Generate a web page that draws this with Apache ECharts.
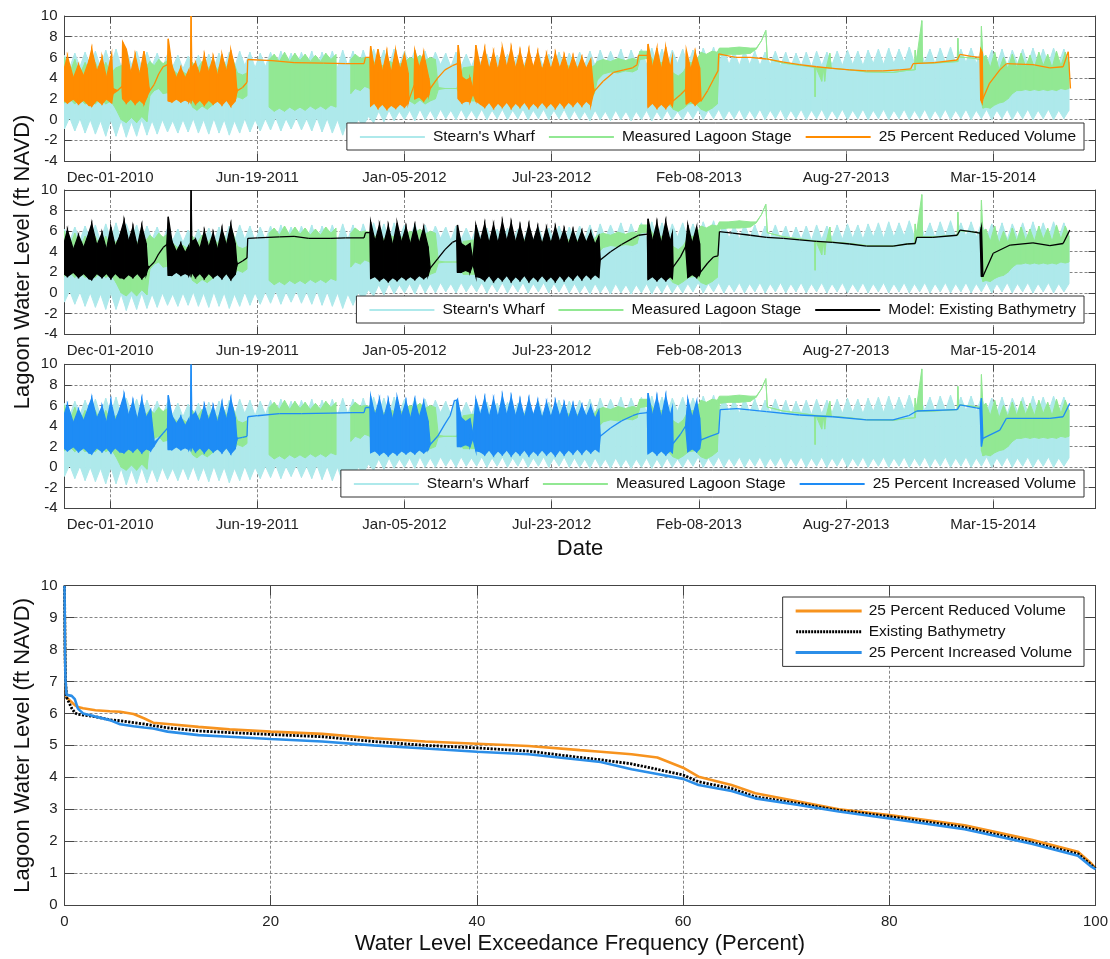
<!DOCTYPE html>
<html>
<head>
<meta charset="utf-8">
<script src="https://cdn.jsdelivr.net/npm/echarts@6/dist/echarts.min.js"></script>
<style>
  html, body { margin: 0; padding: 0; background: #fff; }
  #chart { width: 1110px; height: 959px; }
</style>
</head>
<body>
<div id="chart"></div>
<script>
// ---------------------------------------------------------------------------
// Time axis: days counted from Dec-01-2010
// ---------------------------------------------------------------------------
const dateTickDays = [0, 200, 400, 600, 800, 1000, 1200];
const dateTickLabels = ['Dec-01-2010', 'Jun-19-2011', 'Jan-05-2012', 'Jul-23-2012',
                        'Feb-08-2013', 'Aug-27-2013', 'Mar-15-2014'];

// Stearn's Wharf tide envelope, one sample each week starting day -62
const wharfStartDay = -62;
const wharfStepDays = 7;
const wharfHigh = [
  6.2,5.0,6.4,5.1,6.5,5.2,6.6,5.0,6.7,5.2,
  6.8,5.1,6.7,5.3,6.6,5.0,6.5,5.2,6.4,5.0,
  6.3,5.1,6.2,4.9,6.1,5.0,6.2,4.9,6.3,5.0,
  6.4,5.1,6.5,5.0,6.6,5.2,6.5,5.0,6.4,5.1,
  6.5,5.0,6.6,5.2,6.4,5.0,6.5,5.1,6.6,5.0,
  6.5,5.2,6.6,5.0,6.7,5.2,6.6,5.1,6.7,5.2,
  6.8,5.3,6.7,5.2,6.8,5.3,6.6,5.2,6.7,5.3,
  6.6,5.2,6.5,5.3,6.4,5.1,6.5,5.2,6.3,5.1,
  6.4,5.2,6.3,5.1,6.2,5.0,6.3,5.1,6.2,5.0,
  6.3,5.1,6.4,5.0,6.3,5.2,6.5,5.1,6.4,5.2,
  6.5,5.3,6.6,5.2,6.7,5.3,6.6,5.4,6.8,5.3,
  6.7,5.4,6.8,5.3,6.9,5.4,6.8,5.3,6.7,5.4,
  6.8,5.3,6.7,5.4,6.9,5.5,7.0,5.4,6.8,5.3,
  6.6,5.2,6.7,5.3,6.6,5.2,6.5,5.3,6.6,5.2,
  6.5,5.1,6.4,5.2,6.5,5.1,6.6,5.2,6.5,5.3,
  6.6,5.2,6.7,5.3,6.6,5.2,6.7,5.4,6.8,5.3,
  6.9,5.4,6.8,5.5,7.0,5.4,6.9,5.5,6.8,5.4,
  6.9,5.5,7.0,5.4,6.8,5.5,6.9,5.4,6.8,5.3,
  6.7,5.3,6.8,5.2,6.7,5.4,6.8,5.3,6.9,5.4,
  6.8,5.3,6.9,5.4,6.8,5.5
];
const wharfLow = [
  -0.9,0.2,-1.1,0.1,-1.3,0.0,-1.4,-0.1,-1.6,0.0,
  -1.6,-0.1,-1.7,-0.2,-1.6,0.0,-1.5,-0.1,-1.4,0.0,
  -1.2,-0.1,-1.3,0.0,-1.2,0.1,-1.3,0.0,-1.4,0.1,
  -1.3,0.0,-1.5,-0.1,-1.3,0.1,-1.2,0.0,-1.1,0.1,
  -1.0,0.2,-1.1,0.1,-0.9,0.2,-1.0,0.1,-1.1,0.2,
  -1.2,0.1,-1.3,0.0,-1.5,-0.1,-1.2,0.0,-0.6,0.3,
  -0.3,0.8,-0.2,0.9,-0.1,0.8,0.0,0.9,-0.1,1.0,
  0.0,0.9,0.0,1.0,0.1,0.9,0.0,1.0,0.1,0.9,
  0.1,1.0,0.0,0.9,0.1,1.0,0.0,0.9,0.1,1.0,
  0.0,0.9,0.1,1.0,0.0,0.9,0.1,1.0,0.0,0.9,
  0.0,0.8,-0.1,0.9,0.0,0.8,-0.1,0.9,0.0,0.8,
  -0.1,0.8,0.0,0.9,-0.1,0.8,0.0,0.9,0.0,0.8,
  0.0,0.9,0.1,1.0,0.0,0.9,0.1,1.0,0.0,0.9,
  0.1,1.0,0.0,0.9,0.1,1.0,0.0,0.9,0.1,1.0,
  0.0,0.9,0.1,1.0,0.0,0.9,0.1,1.0,0.0,0.9,
  0.1,1.0,0.0,0.9,0.1,1.0,0.0,0.9,0.1,1.0,
  0.0,0.9,0.1,1.0,0.0,0.9,0.1,1.0,0.0,0.9,
  0.1,1.0,0.0,0.9,0.1,1.0,0.0,0.9,0.1,1.0,
  0.0,0.9,0.1,1.0,0.0,0.9,0.1,1.0,0.0,0.9,
  0.1,1.0,0.0,0.9,0.1,0.9
];

// Measured lagoon stage: [day, low, high]; null rows are gaps in the record
const lagoonStage = [
  [-62,1.6,6.0],[-55,2.0,4.5],[-48,1.5,5.8],[-41,2.0,4.4],[-34,1.5,5.5],[-27,1.8,4.6],
  [-20,1.5,5.5],[-13,2.0,4.4],[-6,1.5,5.5],[1,1.8,4.5],[8,1.0,5.0],[15,0.0,5.2],
  [22,-0.3,4.8],[29,0.2,4.4],[36,-0.3,5.0],[43,0.3,4.5],[50,-0.2,5.2],
  [54,2.3,5.6],[60,2.8,5.2],[66,3.0,5.8],[72,2.5,5.4],[78,2.6,5.7],
  [85,2.0,4.8],[92,2.2,4.4],[99,2.0,4.6],[106,2.2,4.3],
  [112,1.2,5.5],[118,0.9,4.8],[125,1.3,5.6],[132,1.0,4.8],[139,1.4,5.5],
  [146,1.8,4.8],[153,1.6,5.8],[160,1.9,4.8],[167,1.6,5.8],
  [173,2.2,4.5],[180,2.0,4.3],[186,2.3,4.5],
  [188,null,null],
  [216,1.2,5.8],[223,0.8,6.3],[230,1.1,5.6],[237,0.8,6.5],[244,1.2,5.6],[251,0.9,6.4],
  [258,1.2,5.7],[265,0.9,6.3],[272,1.3,5.6],[279,1.0,6.2],[286,1.3,5.6],[293,1.0,6.4],
  [300,1.4,5.8],[307,1.2,6.3],
  [311,null,null],
  [327,2.5,5.8],[333,3.0,6.3],[340,2.8,5.9],[346,3.2,6.0],[353,3.0,5.9],
  [360,1.6,5.5],[370,1.8,5.2],[380,1.6,5.6],[390,1.8,5.3],[400,1.6,5.5],
  [407,1.8,6.0],[414,1.5,5.8],[421,1.9,6.2],[428,1.5,5.7],[435,1.8,6.0],[442,2.0,5.8],
  [446,2.9,3.1],[455,3.0,3.0],[465,3.0,3.0],[471,3.0,3.0],
  [480,1.8,5.0],[500,1.8,5.2],[530,1.8,5.0],[560,1.8,5.2],[590,1.8,5.0],[620,1.8,5.2],
  [650,1.8,5.0],[658,2.5,5.2],
  [662,3.8,5.6],[670,4.4,5.8],[680,4.6,5.6],[690,4.5,5.9],[700,4.7,5.7],[710,4.6,5.9],
  [716,4.8,5.8],[720,5.8,6.6],[730,5.9,6.6],
  [740,1.8,5.5],[755,1.8,5.5],
  [765,1.0,4.5],[772,0.8,4.2],[779,1.1,4.6],
  [786,1.5,5.5],[795,1.6,5.5],
  [803,1.0,6.5],[810,0.8,6.3],[818,1.1,6.6],[825,1.5,6.5],
  [828,6.2,6.9],[840,6.3,6.9],[855,6.3,7.0],[870,6.4,6.9],[878,6.8,6.9],[885,7.6,7.6],
  [891,8.6,8.6],[893,5.85,5.85],
  [915,5.45,5.45],[937,5.25,5.25],[957,5.05,5.05],[958,2.2,5.05],[959,5.05,5.05],
  [967,3.7,5.0],[969,5.0,5.0],[971,3.7,5.0],[973,5.0,5.0],[978,4.95,6.4],[980,4.95,4.95],
  [1005,4.8,4.8],[1028,4.6,4.6],[1064,4.55,4.55],[1083,4.75,4.75],[1093,4.8,4.8],
  [1094,4.8,6.7],[1095,5.4,5.4],[1103,5.45,9.55],[1104,5.45,5.45],[1118,5.45,5.45],
  [1151,5.6,5.6],[1152,5.6,7.85],[1153,6.05,6.05],[1170,5.95,5.95],[1183,5.8,5.8],
  [1184,1.6,9.0],[1186,1.1,6.0],
  [1190,1.2,6.2],[1196,1.1,5.0],[1202,1.4,6.5],[1208,1.6,4.8],[1214,1.7,6.0],[1220,2.0,4.9],
  [1226,2.5,6.3],[1232,2.8,5.0],[1238,2.8,6.4],[1244,2.9,5.1],[1250,2.8,6.2],[1256,2.9,5.0],
  [1262,2.8,6.5],[1268,2.9,5.2],[1274,2.8,6.3],[1280,2.9,5.0],[1286,2.8,6.6],[1292,3.0,5.2],
  [1298,2.9,6.5],[1303,3.0,5.5]
];

// Modelled lagoon level, 25 percent reduced volume: [day, low, high]
const reducedVolume = [
  [-62,1.8,5.0],[-58,1.6,6.1],[-50,2.0,4.0],[-43,1.5,5.3],[-36,1.9,4.2],[-29,1.4,5.6],
  [-25,1.3,6.8],[-18,1.9,4.6],[-11,1.5,6.0],[-5,2.0,4.0],[2,1.6,6.3],[4,2.5,3.0],
  [10,2.8,2.8],[16,3.2,3.2],
  [17,2.0,7.5],[22,1.6,6.8],[28,2.0,4.5],[34,1.5,6.2],[40,1.9,4.3],[46,1.5,6.6],[50,2.2,5.0],[53,2.7,3.0],
  [54,2.8,2.8],[60,3.4,3.4],[66,4.4,4.4],[72,5.1,5.1],[78,5.3,5.3],
  [79,1.8,7.8],[84,1.7,5.2],[90,2.0,4.0],[96,1.7,5.0],[102,1.9,4.0],[107,1.7,4.8],[109,2.0,3.5],
  [110,1.8,10.0],[111,2.0,5.0],
  [116,1.5,5.5],[122,1.9,4.3],[128,1.4,6.2],[134,1.9,4.5],[140,1.5,6.0],[146,1.8,4.2],
  [152,1.4,6.3],[158,1.9,4.6],[164,1.3,6.7],[170,1.8,4.8],[172,2.6,3.0],
  [173,2.8,2.8],[180,3.1,3.1],[186,3.6,3.6],
  [187,5.8,5.8],[220,5.7,5.7],[250,5.5,5.5],[290,5.45,5.45],[320,5.4,5.4],[345,5.4,5.4],
  [347,6.0,6.0],[353,6.0,6.0],
  [354,1.3,7.1],[359,1.6,5.0],[364,1.1,6.8],[370,1.5,4.6],[376,1.0,6.5],[382,1.4,4.5],
  [388,1.1,6.7],[394,1.5,4.8],[400,1.2,6.3],[405,1.6,4.5],
  [406,1.9,1.9],[413,3.3,3.3],
  [414,2.0,6.7],[420,2.2,5.0],[426,1.8,6.4],[433,2.4,4.0],
  [435,3.0,3.0],[445,4.0,4.0],[455,4.8,4.8],[465,5.2,5.2],[472,5.4,5.4],
  [473,2.0,7.2],[478,1.6,4.1],[484,1.8,3.8],[489,1.7,4.0],[493,2.5,3.0],[497,1.8,7.2],
  [503,1.5,5.0],[509,1.2,6.8],[515,1.7,4.8],[521,1.1,6.5],[527,1.6,4.7],[533,1.2,7.0],
  [539,1.7,5.0],[545,1.1,6.9],[551,1.6,4.9],[557,1.2,6.6],[563,1.7,4.8],[569,1.1,6.7],
  [575,1.6,5.0],[581,1.2,6.5],[587,1.7,4.7],[593,1.2,6.3],[599,1.6,4.8],[605,1.1,6.4],
  [611,1.7,4.9],[617,1.2,6.2],[623,1.7,4.7],[629,1.3,6.1],[635,1.8,4.8],[641,1.3,6.0],
  [647,1.8,4.9],[653,1.4,5.8],[657,2.6,3.0],
  [658,2.75,2.75],[670,3.7,3.7],[684,4.55,4.55],[698,4.8,4.8],[710,5.0,5.0],[716,5.3,5.3],
  [718,6.2,6.2],[730,6.2,6.2],
  [731,1.2,7.3],[737,1.6,5.0],[743,1.1,6.9],[749,1.5,4.8],[755,1.1,7.0],[761,1.6,5.0],[764,1.3,6.0],
  [765,1.8,1.8],[775,2.4,2.4],[782,2.9,2.9],
  [783,1.5,6.7],[789,1.8,4.8],[795,1.4,6.5],[801,1.8,5.0],
  [803,1.8,1.8],[812,2.8,2.8],[820,3.9,3.9],[826,4.7,4.7],
  [827,6.35,6.35],[850,6.0,6.0],[870,6.0,6.0],[892,5.85,5.85],[915,5.55,5.55],[937,5.3,5.3],
  [960,5.1,5.1],[982,4.95,4.95],[1005,4.8,4.8],[1028,4.7,4.7],[1050,4.7,4.7],[1073,4.8,4.8],
  [1088,4.9,4.9],[1091,5.4,5.4],[1120,5.5,5.5],[1151,5.75,5.75],[1155,6.3,6.3],[1170,6.1,6.1],
  [1182,6.0,6.0],
  [1183,1.9,6.8],[1185,1.6,6.5],[1186,2.0,2.0],[1195,3.5,3.5],[1209,4.8,4.8],[1218,5.4,5.4],
  [1235,5.35,5.35],[1254,5.3,5.3],[1277,5.0,5.0],[1295,5.1,5.1],[1302,6.55,6.55],[1305,3.0,3.0]
];

// Modelled lagoon level, existing bathymetry: [day, low, high]
const existingBathymetry = [
  [-62,1.8,5.0],[-58,1.6,6.1],[-50,2.0,4.2],[-43,1.5,5.6],[-36,1.9,4.4],[-29,1.4,5.8],
  [-25,1.3,6.7],[-18,1.9,4.6],[-11,1.5,5.8],[-5,1.9,4.2],[1,1.4,6.4],[7,1.9,4.5],[13,1.5,5.5],
  [19,1.4,7.0],[25,1.8,5.0],[31,1.5,6.4],[37,1.9,4.5],[43,1.4,6.5],[49,1.8,4.8],[51,2.3,2.6],
  [53,2.5,2.5],[60,3.0,3.0],[66,3.8,3.8],[72,4.4,4.4],[77,4.7,4.7],
  [79,1.7,7.4],[84,1.7,5.0],[90,2.0,4.0],[96,1.7,4.8],[102,1.9,3.9],[107,1.7,4.6],[109,2.0,3.4],
  [110,1.8,10.0],[111,2.0,5.0],
  [116,1.5,5.2],[122,1.9,4.3],[128,1.4,6.0],[134,1.9,4.4],[140,1.5,5.8],[146,1.8,4.2],
  [152,1.4,6.2],[158,1.9,4.6],[164,1.3,6.6],[170,1.8,4.8],[172,2.6,3.0],
  [173,2.8,2.8],[180,3.1,3.1],[186,3.4,3.4],
  [187,5.3,5.3],[200,5.35,5.35],[230,5.45,5.45],[250,5.5,5.5],[270,5.3,5.3],[300,5.3,5.3],
  [320,5.35,5.35],[345,5.35,5.35],[347,5.85,5.85],[353,5.85,5.85],
  [354,1.4,6.9],[360,1.6,5.0],[366,1.2,6.6],[372,1.5,4.8],[378,1.1,6.5],[384,1.5,4.6],
  [390,1.2,6.8],[396,1.6,4.9],[402,1.3,6.4],[408,1.6,4.7],[414,1.3,6.5],[420,1.7,4.8],
  [426,1.4,6.3],[432,1.7,4.5],[435,2.4,2.4],
  [445,3.3,3.3],[455,4.2,4.2],[465,4.9,4.9],[471,5.1,5.1],
  [472,2.0,6.6],[477,2.0,4.8],[483,2.2,4.5],[489,2.0,4.8],[493,2.8,3.2],[497,1.6,6.6],
  [503,1.5,5.0],[509,1.2,6.7],[515,1.7,4.8],[521,1.1,6.6],[527,1.6,4.8],[533,1.2,6.9],
  [539,1.7,5.0],[545,1.1,6.8],[551,1.6,4.9],[557,1.2,6.5],[563,1.7,4.8],[569,1.1,6.6],
  [575,1.6,5.0],[581,1.2,6.4],[587,1.7,4.7],[593,1.2,6.3],[599,1.6,4.8],[605,1.1,6.4],
  [611,1.7,4.9],[617,1.2,6.2],[623,1.7,4.7],[629,1.3,6.1],[635,1.8,4.8],[641,1.3,6.0],
  [647,1.8,4.9],[653,1.4,5.9],[659,1.8,4.7],[664,1.5,5.5],[666,3.2,3.2],
  [680,4.0,4.0],[695,4.7,4.7],[710,5.3,5.3],[718,5.6,5.6],[730,5.7,5.7],
  [731,1.3,7.2],[737,1.6,5.0],[743,1.2,6.8],[749,1.6,4.8],[755,1.2,6.9],[761,1.6,5.0],[764,1.4,5.8],
  [765,2.5,2.5],[775,3.5,3.5],[782,4.5,4.5],
  [785,1.5,6.6],[791,1.8,4.8],[797,1.5,6.4],[801,1.8,4.8],
  [802,2.0,2.0],[812,2.9,2.9],[820,3.5,3.5],[826,3.6,3.6],
  [828,5.95,5.95],[846,5.8,5.8],[870,5.6,5.6],[892,5.4,5.4],[915,5.3,5.3],[937,5.15,5.15],
  [960,5.0,5.0],[982,4.9,4.9],[1005,4.75,4.75],[1028,4.55,4.55],[1064,4.55,4.55],
  [1083,4.75,4.75],[1094,4.8,4.8],[1096,5.4,5.4],[1118,5.4,5.4],[1151,5.6,5.6],
  [1155,6.1,6.1],[1170,5.95,5.95],[1182,5.8,5.8],
  [1184,1.6,6.4],[1186,1.6,1.6],[1200,3.85,3.85],[1223,4.65,4.65],[1254,4.85,4.85],
  [1277,4.6,4.6],[1295,4.8,4.8],[1304,6.1,6.1]
];

// Modelled lagoon level, 25 percent increased volume: [day, low, high]
const increasedVolume = [
  [-62,1.8,5.2],[-58,1.6,6.1],[-50,2.0,4.3],[-43,1.5,5.6],[-36,1.9,4.5],[-29,1.4,5.9],
  [-25,1.3,6.7],[-18,1.9,4.7],[-11,1.5,5.9],[-5,1.9,4.3],[1,1.4,6.4],[7,1.9,4.5],[13,1.5,5.6],
  [19,1.4,7.0],[25,1.8,5.0],[31,1.5,6.4],[37,1.9,4.6],[43,1.4,6.6],[49,1.8,4.8],[55,1.6,5.6],
  [60,2.1,2.4],
  [66,2.8,2.8],[72,3.3,3.3],[78,3.8,3.8],
  [79,1.7,7.0],[84,1.7,5.0],[90,2.0,4.2],[96,1.7,4.9],[102,1.9,4.0],[107,1.7,4.7],[109,2.0,3.5],
  [110,1.8,10.0],[111,2.0,5.0],
  [116,1.5,5.3],[122,1.9,4.4],[128,1.4,6.0],[134,1.9,4.5],[140,1.5,5.9],[146,1.8,4.3],
  [152,1.4,6.2],[158,1.9,4.6],[164,1.3,6.6],[170,1.8,4.8],[172,2.6,2.9],
  [173,2.8,2.8],[180,2.9,2.9],[186,3.0,3.0],
  [187,4.9,4.9],[200,5.0,5.0],[230,5.2,5.2],[260,5.2,5.2],[300,5.25,5.25],[330,5.3,5.3],
  [345,5.3,5.3],[347,5.8,5.8],[353,5.8,5.8],
  [354,1.4,6.9],[360,1.6,5.0],[366,1.2,6.6],[372,1.5,4.8],[378,1.1,6.5],[384,1.5,4.6],
  [390,1.2,6.8],[396,1.6,4.9],[402,1.3,6.4],[408,1.6,4.7],[414,1.3,6.5],[420,1.7,4.8],
  [426,1.4,6.3],[432,1.7,4.5],[435,2.2,2.2],
  [445,3.0,3.0],[455,4.2,4.2],[462,5.0,5.0],[468,6.5,6.5],[471,6.5,6.5],
  [472,2.0,6.6],[477,2.0,4.8],[483,2.2,4.4],[489,2.0,4.7],[493,2.8,3.2],[497,1.6,6.6],
  [503,1.5,5.0],[509,1.2,6.7],[515,1.7,4.8],[521,1.1,6.6],[527,1.6,4.8],[533,1.2,6.9],
  [539,1.7,5.0],[545,1.1,6.8],[551,1.6,4.9],[557,1.2,6.5],[563,1.7,4.8],[569,1.1,6.6],
  [575,1.6,5.0],[581,1.2,6.4],[587,1.7,4.7],[593,1.2,6.3],[599,1.6,4.8],[605,1.1,6.4],
  [611,1.7,4.9],[617,1.2,6.2],[623,1.7,4.7],[629,1.3,6.1],[635,1.8,4.8],[641,1.3,6.0],
  [647,1.8,4.9],[653,1.4,5.9],[659,1.8,4.7],[664,1.5,5.5],[666,3.0,3.0],
  [680,3.8,3.8],[695,4.5,4.5],[710,5.0,5.0],[718,5.2,5.2],[730,5.3,5.3],
  [731,1.3,7.2],[737,1.6,5.0],[743,1.2,6.8],[749,1.6,4.8],[755,1.2,6.9],[761,1.6,5.0],[764,1.4,5.8],
  [765,2.3,2.3],[775,3.2,3.2],[782,4.0,4.0],
  [785,1.5,6.6],[791,1.8,4.8],[797,1.5,6.4],[801,1.8,4.8],
  [803,2.65,2.65],[815,3.0,3.0],[827,3.3,3.3],
  [829,5.6,5.6],[852,5.7,5.7],[892,5.4,5.4],[937,5.07,5.07],[982,4.9,4.9],[1028,4.6,4.6],
  [1064,4.6,4.6],[1085,5.0,5.0],[1096,5.46,5.46],[1151,5.6,5.6],[1155,6.05,6.05],[1182,5.7,5.7],
  [1184,2.0,6.7],[1186,2.8,2.8],[1209,3.6,3.6],[1218,4.75,4.75],[1254,4.75,4.75],
  [1277,4.75,4.75],[1295,4.9,4.9],[1304,6.2,6.2]
];

// Exceedance curves (percent of time a level is exceeded)
const exceedancePct = [0, 0.05, 0.1, 0.2, 0.7, 1.0, 1.3, 1.8, 3, 4.4, 5.4, 6.7, 7.7, 8.6, 10,
  13, 16, 20, 25, 30, 35, 40, 45, 50, 52, 55, 57.5, 60, 61.5, 64.7, 67, 71.2, 75.1, 80,
  87.3, 93.8, 98.3, 99.6, 100];
const exceedReduced = [10, 8.0, 7.0, 6.5, 6.35, 6.26, 6.2, 6.16, 6.1, 6.07, 6.05, 5.98, 5.85,
  5.71, 5.67, 5.58, 5.5, 5.43, 5.36, 5.22, 5.12, 5.05, 4.98, 4.85, 4.8, 4.72, 4.62, 4.3, 4.02,
  3.76, 3.5, 3.24, 3.0, 2.82, 2.5, 2.04, 1.67, 1.3, 1.15];
const exceedExisting = [10, 8.0, 7.0, 6.5, 6.16, 6.02, 5.97, 5.95, 5.9, 5.8, 5.77, 5.71, 5.67,
  5.62, 5.55, 5.45, 5.4, 5.34, 5.27, 5.12, 5.0, 4.92, 4.82, 4.62, 4.55, 4.42, 4.25, 4.07, 3.86,
  3.65, 3.39, 3.18, 2.96, 2.77, 2.43, 1.96, 1.6, 1.25, 1.15];
const exceedIncreased = [10, 8.0, 7.0, 6.58, 6.55, 6.45, 6.15, 6.0, 5.9, 5.79, 5.66, 5.6, 5.56,
  5.53, 5.43, 5.32, 5.27, 5.2, 5.12, 5.0, 4.9, 4.8, 4.72, 4.55, 4.48, 4.25, 4.1, 3.95, 3.76,
  3.57, 3.34, 3.13, 2.93, 2.71, 2.37, 1.92, 1.54, 1.2, 1.12];
const curveLabels = {
  reduced: '25 Percent Reduced Volume',
  existing: 'Existing Bathymetry',
  increased: '25 Percent Increased Volume'
};

// ---------------------------------------------------------------------------
// Styling
// ---------------------------------------------------------------------------
const FONT = "'Liberation Sans', Arial, Helvetica, sans-serif";
const CYAN = '#aee9eb';
const GREEN = '#92e893';
const ORANGE = '#ff8c00';
const BLUE = '#1e8cf5';
const BLACK = '#000000';
const AXIS_COLOR = '#444';
const GRID_LINE = { color: '#858585', type: [3, 2], width: 1 };
const LABEL_STYLE = { fontSize: 15, fontFamily: FONT, color: '#222' };
const TITLE_STYLE = { fontSize: 22, fontFamily: FONT, color: '#111' };

const wharfRows = wharfHigh.map((hi, i) => [wharfStartDay + i * wharfStepDays, wharfLow[i], hi]);

// Each item spans two consecutive envelope samples; null samples leave a gap
function toSegments(rows) {
  const out = [];
  for (let i = 0; i < rows.length - 1; i++) {
    const a = rows[i], b = rows[i + 1];
    if (a[1] == null || b[1] == null) continue;
    out.push([a[0], a[1], a[2], b[0], b[1], b[2]]);
  }
  return out;
}

function bandSeries(name, rows, color, panel, z, lw) {
  return {
    type: 'custom',
    name,
    xAxisIndex: panel * 2,
    yAxisIndex: panel * 2,
    z,
    silent: true,
    clip: true,
    itemStyle: { color },
    encode: { x: [0, 3], y: [1, 2, 4, 5] },
    data: toSegments(rows),
    renderItem(params, api) {
      const pts = [
        api.coord([api.value(0), api.value(2)]),
        api.coord([api.value(3), api.value(5)]),
        api.coord([api.value(3), api.value(4)]),
        api.coord([api.value(0), api.value(1)])
      ];
      return {
        type: 'polygon',
        shape: { points: pts },
        style: { fill: color, stroke: color, lineWidth: lw }
      };
    }
  };
}

function dateAxis(grid, position) {
  const bottom = position === 'bottom';
  return {
    type: 'value', gridIndex: grid, position, min: -62, max: 1339,
    axisLine: { show: true, onZero: false, lineStyle: { color: AXIS_COLOR, width: 1 } },
    axisTick: { show: true, inside: true, length: 7, customValues: dateTickDays,
                lineStyle: { color: AXIS_COLOR } },
    axisLabel: { show: bottom, customValues: dateTickDays, margin: 9, ...LABEL_STYLE,
                 formatter: v => { const k = dateTickDays.indexOf(v); return k < 0 ? '' : dateTickLabels[k]; } },
    splitLine: { show: bottom, lineStyle: GRID_LINE }
  };
}

function levelAxis(grid, position, min, max, interval, tickLen) {
  const left = position === 'left';
  return {
    type: 'value', gridIndex: grid, position, min, max, interval,
    axisLine: { show: true, onZero: false, lineStyle: { color: AXIS_COLOR, width: 1 } },
    axisTick: { show: true, inside: true, length: tickLen, lineStyle: { color: AXIS_COLOR } },
    axisLabel: { show: left, margin: 7, ...LABEL_STYLE },
    splitLine: { show: left, lineStyle: GRID_LINE }
  };
}

function topLegend(top, names, colors) {
  return {
    right: 26, top, orient: 'horizontal', selectedMode: false,
    backgroundColor: '#fff', borderColor: '#333', borderWidth: 1, borderRadius: 0,
    padding: [6, 8, 5, 13], itemGap: 14, itemWidth: 65, itemHeight: 2,
    textStyle: { fontSize: 15.5, fontFamily: FONT, color: '#111', padding: [0, 0, 0, 3] },
    data: names.map((n, i) => ({ name: n, icon: 'rect', itemStyle: { color: colors[i], borderWidth: 0 } }))
  };
}

// dotted sample for the dashed curve in the lower legend
let dots = '';
for (let k = 0; k < 22; k++) dots += 'M' + (k * 3) + ',0h2v3h-2z';
const dottedIcon = 'path://' + dots;

const yTitle = {
  name: 'Lagoon Water Level (ft NAVD)', nameLocation: 'middle', nameGap: 31,
  nameMoveOverlap: false, nameTextStyle: TITLE_STYLE
};

const xAxes = [], yAxes = [];
for (let p = 0; p < 3; p++) {
  xAxes.push(dateAxis(p, 'bottom'), dateAxis(p, 'top'));
  yAxes.push(levelAxis(p, 'left', -4, 10, 2, 7), levelAxis(p, 'right', -4, 10, 2, 7));
}
Object.assign(xAxes[4], { name: 'Date', nameLocation: 'middle', nameGap: 30, nameTextStyle: TITLE_STYLE });
Object.assign(yAxes[2], yTitle);

const pctAxis = pos => ({
  type: 'value', gridIndex: 3, position: pos, min: 0, max: 100, interval: 20,
  axisLine: { show: true, onZero: false, lineStyle: { color: AXIS_COLOR, width: 1 } },
  axisTick: { show: true, inside: true, length: 10, lineStyle: { color: AXIS_COLOR } },
  axisLabel: { show: pos === 'bottom', margin: 9, ...LABEL_STYLE },
  splitLine: { show: pos === 'bottom', lineStyle: GRID_LINE }
});
const xPctBottom = pctAxis('bottom');
Object.assign(xPctBottom, { name: 'Water Level Exceedance Frequency (Percent)', nameLocation: 'middle',
                            nameGap: 28, nameTextStyle: TITLE_STYLE });
xAxes.push(xPctBottom, pctAxis('top'));
const yLevelLeft = levelAxis(3, 'left', 0, 10, 1, 10);
Object.assign(yLevelLeft, yTitle);
yAxes.push(yLevelLeft, levelAxis(3, 'right', 0, 10, 1, 10));

const curve = (name, values, color, z, type, width) => ({
  type: 'line', name, xAxisIndex: 6, yAxisIndex: 6, z,
  data: exceedancePct.map((x, i) => [x, values[i]]),
  symbol: 'none', smooth: false, silent: true,
  lineStyle: { color, width, type, cap: 'butt' },
  itemStyle: { color }
});

const series = [];
const models = [
  ['25 Percent Reduced Volume', reducedVolume, ORANGE],
  ['Model: Existing Bathymetry', existingBathymetry, BLACK],
  ['25 Percent Increased Volume', increasedVolume, BLUE]
];
for (let p = 0; p < 3; p++) {
  series.push(bandSeries("Stearn's Wharf", wharfRows, CYAN, p, 1, 1));
  series.push(bandSeries('Measured Lagoon Stage', lagoonStage, GREEN, p, 2, 1));
  series.push(bandSeries(models[p][0], models[p][1], models[p][2], p, 3, 1.3));
}
series.push(curve('reduced', exceedReduced, '#f7931e', 3, 'solid', 2.6));
series.push(curve('existing', exceedExisting, '#000', 4, [2.2, 1.4], 2.8));
series.push(curve('increased', exceedIncreased, '#2b8ee8', 5, 'solid', 2.6));

const option = {
  backgroundColor: '#fff',
  animation: false,
  textStyle: { fontFamily: FONT },
  grid: [
    { left: 64.5, top: 16, width: 1031, height: 145, containLabel: false, outerBoundsMode: 'none' },
    { left: 64.5, top: 190, width: 1031, height: 144, containLabel: false, outerBoundsMode: 'none' },
    { left: 64.5, top: 364.3, width: 1031, height: 144, containLabel: false, outerBoundsMode: 'none' },
    { left: 64.5, top: 585.7, width: 1031, height: 319.3, containLabel: false, outerBoundsMode: 'none' }
  ],
  xAxis: xAxes,
  yAxis: yAxes,
  legend: [
    topLegend(123, ["Stearn's Wharf", 'Measured Lagoon Stage', '25 Percent Reduced Volume'], [CYAN, GREEN, ORANGE]),
    topLegend(296, ["Stearn's Wharf", 'Measured Lagoon Stage', 'Model: Existing Bathymetry'], [CYAN, GREEN, BLACK]),
    topLegend(470, ["Stearn's Wharf", 'Measured Lagoon Stage', '25 Percent Increased Volume'], [CYAN, GREEN, BLUE]),
    {
      right: 26, top: 597, orient: 'vertical', selectedMode: false,
      backgroundColor: '#fff', borderColor: '#333', borderWidth: 1, borderRadius: 0,
      padding: [6, 12, 6, 13], itemGap: 4.7, itemWidth: 66, itemHeight: 3,
      textStyle: { fontSize: 15.5, fontFamily: FONT, color: '#111', padding: [0, 0, 0, 2] },
      formatter: n => curveLabels[n],
      data: [
        { name: 'reduced', icon: 'rect', itemStyle: { color: '#f7931e', borderWidth: 0 } },
        { name: 'existing', icon: dottedIcon, itemStyle: { color: '#000', borderWidth: 0 } },
        { name: 'increased', icon: 'rect', itemStyle: { color: '#2b8ee8', borderWidth: 0 } }
      ]
    }
  ],
  series
};

const chart = echarts.init(document.getElementById('chart'), null, { renderer: 'canvas' });
chart.setOption(option);
</script>
</body>
</html>
